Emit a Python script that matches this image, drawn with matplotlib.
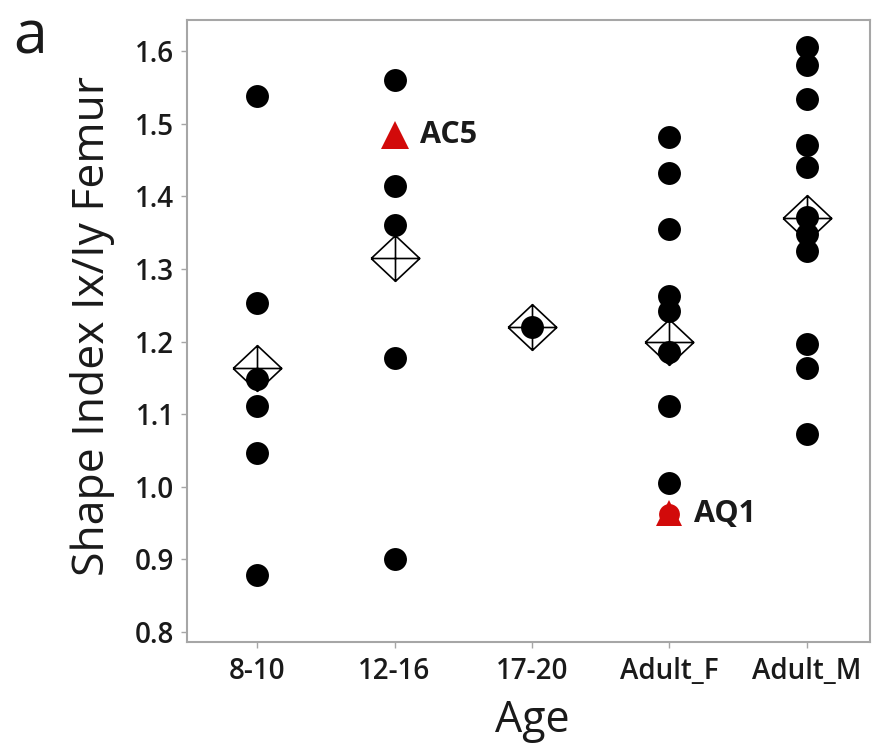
import numpy as np
import matplotlib
matplotlib.use("Agg")
import matplotlib.pyplot as plt
from matplotlib.path import Path

# ---- data ----
categories = ["8-10", "12-16", "17-20", "Adult_F", "Adult_M"]
vals_8_10 = [1.538, 1.253, 1.148, 1.111, 1.046, 0.878]
vals_12_16 = [1.560, 1.414, 1.360, 1.177, 0.901]
vals_17_20 = [1.220]
vals_adult_f = [1.482, 1.432, 1.355, 1.263, 1.242, 1.185, 1.111, 1.005]
vals_adult_m = [1.606, 1.581, 1.534, 1.471, 1.440, 1.372, 1.348, 1.325, 1.197, 1.163, 1.072]
group_means = [1.163, 1.315, 1.220, 1.199, 1.370]
highlight_labels = ["AC5", "AQ1"]
highlight_groups = ["12-16", "Adult_F"]
highlight_values = [1.484, 0.962]
yticks = [0.8, 0.9, 1.0, 1.1, 1.2, 1.3, 1.4, 1.5, 1.6]

groups = [vals_8_10, vals_12_16, vals_17_20, vals_adult_f, vals_adult_m]

plt.rcParams['font.family'] = ['Open Sans', 'DejaVu Sans']

fig = plt.figure(figsize=(8.75, 7.46), dpi=100)
ax = fig.add_axes([0.2137, 0.1394, 0.7806, 0.8338])

# diamond-with-cross marker
s = 0.94
verts = [(-1, 0), (0, s), (1, 0), (0, -s), (-1, 0),
         (-1, 0), (1, 0),
         (0, s), (0, -s)]
codes = [Path.MOVETO, Path.LINETO, Path.LINETO, Path.LINETO, Path.LINETO,
         Path.MOVETO, Path.LINETO,
         Path.MOVETO, Path.LINETO]
diamond_cross = Path(verts, codes)

xpos = np.arange(len(categories))
for i, vals in enumerate(groups):
    ax.plot([xpos[i]] * len(vals), vals, 'o', color='black', markersize=16.5,
            markeredgewidth=0, zorder=3)

# highlighted points
red = '#d20a0a'
for lab, g, v in zip(highlight_labels, highlight_groups, highlight_values):
    xi = categories.index(g)
    if lab == "AQ1":
        ax.plot([xi], [v], 'o', color=red, markersize=15, markeredgewidth=0, zorder=4)
        ax.plot([xi], [v + 0.002], '^', color=red, markersize=19, markeredgewidth=0, zorder=4)
    else:
        ax.plot([xi], [v], '^', color=red, markersize=20, markeredgewidth=0, zorder=4)
    ax.annotate(lab, (xi, v), xytext=(18, 0), textcoords='offset points',
                ha='left', va='center', fontsize=22, fontweight='bold', color='#1a1a1a')

# means
ax.plot(xpos, group_means, linestyle='none', marker=diamond_cross, markersize=35,
        markerfacecolor='none', markeredgecolor='black', markeredgewidth=1.2, zorder=5)

ax.set_xlim(-0.51, 4.46)
ax.set_ylim(0.786, 1.643)
ax.set_xticks(xpos)
ax.set_xticklabels(categories)
ax.set_yticks(yticks)
ax.set_yticklabels([f"{t:.1f}" for t in yticks])

for sp in ax.spines.values():
    sp.set_color('#a6a6a6')
    sp.set_linewidth(1.5)
ax.tick_params(axis='both', which='both', color='#a6a6a6', length=4, width=1,
               labelsize=20, labelcolor='#1a1a1a')
ax.tick_params(axis='y', pad=5)
ax.tick_params(axis='x', pad=7)
for lbl in ax.get_xticklabels() + ax.get_yticklabels():
    lbl.set_fontweight('semibold')

fig.text(93 / 875, 1 - 326 / 746, "Shape Index Ix/Iy Femur", rotation=90,
         ha='center', va='center', fontsize=32, color='#1a1a1a')
fig.text(532 / 875, 1 - 732 / 746, "Age", ha='center', va='baseline',
         fontsize=31, color='#1a1a1a')
fig.text(0.015, 1 - 53 / 746, "a", ha='left', va='baseline',
         fontsize=44, color='#1a1a1a')

fig.savefig("out.png", dpi=100)
